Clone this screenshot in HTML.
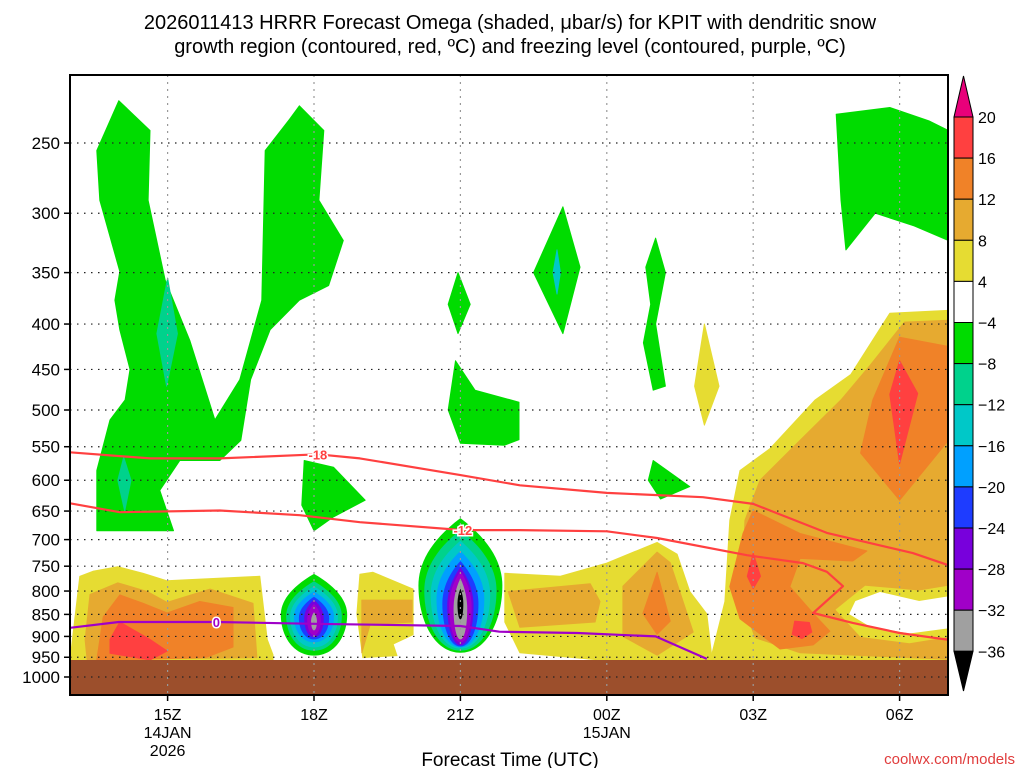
<!DOCTYPE html>
<html><head><meta charset="utf-8">
<style>
html,body{margin:0;padding:0;background:#fff;}
body{width:1024px;height:768px;overflow:hidden;font-family:"Liberation Sans","DejaVu Sans",sans-serif;}
svg text{font-family:"Liberation Sans","DejaVu Sans",sans-serif;}
</style></head>
<body>
<svg id="chart" width="1024" height="768" viewBox="0 0 1024 768" xmlns="http://www.w3.org/2000/svg">
<text x="510" y="29" font-size="20" text-anchor="middle" fill="#000">2026011413 HRRR Forecast Omega (shaded, μbar/s) for KPIT with dendritic snow</text>
<text x="510" y="53" font-size="20" text-anchor="middle" fill="#000">growth region (contoured, red, ºC) and freezing level (contoured, purple, ºC)</text>
<g id="plot"></g>
<g id="axes"></g>
<g id="cbar"></g>
<text x="510" y="766" font-size="19" text-anchor="middle" fill="#000">Forecast Time (UTC)</text>
<text x="1015" y="764" font-size="15" text-anchor="end" fill="#e03c3c" font-family="Liberation Mono, monospace">coolwx.com/models</text>
</svg>
<script>
// ---- data ----
const pressureTicks = [250,300,350,400,450,500,550,600,650,700,750,800,850,900,950,1000];
const timeTickHours = [2,5,8,11,14,17];
const timeTickLabels = ["15Z","18Z","21Z","00Z","03Z","06Z"];
const cbarLevels = [20,16,12,8,4,-4,-8,-12,-16,-20,-24,-28,-32,-36];
const cbarColors = ["#ff4040","#f08228","#e6aa30","#e6dc32","#ffffff","#00dc00","#00d28c","#00c8c8","#00a0ff","#1e3cff","#7800dc","#a000c8","#a0a0a0"];
// isotherm -18 (hours since 13Z, pressure hPa)
const iso18Hours = [0,1.64,3.07,5.08,5.94,8,9.22,11,12.97,14,15.51,17.27,18];
const iso18P = [558,567,567,561,567,592,608,620,627,638,688,725,748];
// isotherm -12
const iso12Hours = [0,1.02,3.07,4.71,5.94,8.05,9.22,11,12.03,13.87,15.02,15.51,15.84,15.23,16.04,17.0,18];
const iso12P = [637,652,649,657,669,683,683,685,697,729,744,761,790,847,869,892,908];
// freezing level 0C
const frzHours = [0,1,3,5,8,8.8,10.4,12,13.05];
const frzP = [880,867,867,871,876,889,892,900,954];
// shaded omega regions [hour, pressure]
const greenLeft = [[1.0,224],[1.64,242],[1.6,290],[1.95,357],[2.46,418],[2.97,513],[3.48,462],[3.93,376],[4.0,255],[4.5,235],[4.7,227],[5.2,242],[5.1,290],[5.6,322],[5.3,362],[4.7,376],[4.1,406],[3.7,462],[3.5,541],[3.07,570],[2.25,570],[1.84,616],[2.12,684],[0.55,684],[0.55,585],[0.82,513],[1.13,487],[1.23,450],[1.02,406],[0.92,376],[1.02,349],[0.61,290],[0.55,255]];
const tealLeftA = [[2.0,355],[2.2,410],[1.98,470],[1.78,410]];
const tealLeftB = [[1.1,565],[1.25,600],[1.12,650],[0.98,600]];
const green18 = [[4.8,570],[5.4,580],[6.05,632],[5.4,660],[5.0,684],[4.75,640]];
const green21a = [[7.95,350],[8.2,380],[7.95,410],[7.75,380]];
const green21b = [[7.9,440],[8.3,475],[9.2,490],[9.2,540],[8.9,548],[8.0,545],[7.75,500]];
const green23 = [[10.1,295],[10.45,345],[10.1,410],[9.5,350]];
const teal23 = [[9.98,330],[10.05,350],[9.98,370],[9.9,350]];
const green01a = [[12.0,320],[12.2,350],[12.0,400],[12.2,470],[11.95,475],[11.75,420],[11.9,380],[11.8,345]];
const green01b = [[11.95,570],[12.7,610],[12.1,630],[11.85,600]];
const green06 = [[15.7,232],[16.8,228],[17.6,236],[18,242],[18,322],[17.3,310],[16.5,300],[15.9,330],[15.8,290]];
const yellow02 = [[13,400],[13.3,470],[13.0,520],[12.8,470]];
const yellowRight = [[18,386],[16.8,389],[16.0,456],[15.27,487],[14.34,553],[13.73,585],[13.52,666],[13.42,822],[13.16,939],[13.16,964],[18,964]];
const lorangeRight = [[18,396],[17.1,398],[16.4,445],[15.8,487],[14.96,541],[14.14,600],[13.83,666],[13.77,822],[14.04,903],[14.96,939],[18,955]];
const orangeRightUp = [[17,414],[18,424],[18,541],[17,632],[16.2,559],[16.45,487]];
const redRightUp = [[17,440],[17.37,479],[17,575],[16.8,480]];
const orangeRightLow = [[14,649],[14.96,689],[16.33,721],[16.04,740],[14.96,735],[14.75,791],[15.23,848],[15.57,888],[15.23,920],[14.55,930],[13.73,860],[13.52,791],[13.79,689]];
const redRightLowA = [[14,725],[14.15,770],[14,795],[13.88,770]];
const redRightLowB = [[14.85,865],[15.15,868],[15.2,890],[15.0,905],[14.8,895]];
const holeYellow = [[15.7,840],[16.3,790],[17.4,800],[18,790],[18,900],[17.2,915],[16.2,900]];
const holeWhite = [[16.1,822],[16.6,803],[17.4,822],[18,812],[18,880],[17.2,892],[16.39,876],[15.98,849]];
const yellowMid = [[8.91,764],[10.04,770],[11.0,744],[12.03,705],[12.44,727],[12.7,801],[13.05,849],[13.16,964],[10.86,964],[9.22,939],[8.91,867]];
const lorangeMidA = [[8.98,801],[10.66,785],[10.86,822],[10.76,867],[9.22,879]];
const lorangeMidB = [[11.33,790],[12.03,723],[12.3,743],[12.77,890],[12.03,945],[11.33,900]];
const orangeMid = [[12.03,762],[12.3,865],[12.03,895],[11.74,848]];
const yellowLeft = [[0,964],[0.2,770],[0.47,760],[0.98,751],[1.5,764],[1.99,779],[2.4,777],[3.89,770],[4.04,907],[4.16,944],[4.16,964]];
const lorangeLeft = [[0.31,908],[0.41,807],[0.98,783],[1.58,801],[1.99,824],[2.87,796],[3.75,826],[3.83,951],[0.35,960]];
const orangeLeft = [[0.55,957],[0.68,856],[1.02,808],[1.5,826],[1.99,847],[2.66,822],[3.34,835],[3.34,925],[2.8,950],[1.17,960]];
const redLeft = [[0.82,940],[0.82,907],[1.02,867],[1.64,907],[1.99,935],[1.64,957]];
const yellow19 = [[5.94,766],[6.21,762],[7.03,796],[7.03,896],[6.62,918],[6.7,946],[6.0,951],[5.88,849]];
const lorange19 = [[5.98,819],[7.01,819],[7.01,867],[6.15,873],[5.98,939]];
// upward-motion cores: center hour, rings [halfWidthHours, topP, bottomP]
const core18Hour = 5.0;
const core18Rings = [[0.68,765,946],[0.57,780,934],[0.49,790,926],[0.41,801,914],[0.31,812,907],[0.2,818,902],[0.14,827,897],[0.06,845,886]];
const core21Hour = 8.0;
const core21Rings = [[0.86,662,939],[0.74,683,934],[0.61,702,929],[0.49,721,926],[0.37,740,924],[0.27,752,921],[0.23,760,914],[0.14,774,907],[0.06,795,861]];
const coreColors = ["#00dc00","#00d28c","#00c8c8","#00a0ff","#1e3cff","#7800dc","#a000c8","#a0a0a0","#000000"];

// ---- axes ----
const L=70,R=948,T=75,B=695,G=660;
const X = h => L + h*48.8;
const Y = p => 143 + 385.2*Math.log(p/250);
const NS="http://www.w3.org/2000/svg";
const plot=document.getElementById('plot'), axes=document.getElementById('axes'), cbar=document.getElementById('cbar');
function mk(tag,attrs,parent){const e=document.createElementNS(NS,tag);for(const k in attrs)e.setAttribute(k,attrs[k]);parent.appendChild(e);return e;}
function poly(pts,color,name){
  const e=mk('polygon',{points:pts.map(q=>X(q[0]).toFixed(1)+','+Math.min(Y(q[1]),G).toFixed(1)).join(' '),fill:color,stroke:color,'stroke-width':1,'stroke-linejoin':'round'},plot);
  
  
}
const C={r:"#ff4040",o:"#f08228",lo:"#e6aa30",y:"#e6dc32",g:"#00dc00",tg:"#00d28c",t:"#00c8c8"};
// clip
const defs=mk('defs',{},plot);
const cp=mk('clipPath',{id:'pc'},defs); mk('rect',{x:L,y:T,width:R-L,height:B-T},cp);
plot.setAttribute('clip-path','url(#pc)');
poly(greenLeft,C.g,'green-region-left');
poly(tealLeftA,C.tg,'teal-patch-upper-left');
poly(tealLeftB,C.tg,'teal-patch-lower-left');
poly(green18,C.g,'green-region-18z');
poly(green21a,C.g,'green-sliver-21z');
poly(green21b,C.g,'green-region-21z');
poly(green23,C.g,'green-region-23z');
poly(teal23,C.t,'teal-patch-23z');
poly(green01a,C.g,'green-sliver-01z');
poly(green01b,C.g,'green-patch-01z');
poly(green06,C.g,'green-region-06z');
poly(yellow02,C.y,'yellow-patch-02z');
poly(yellowRight,C.y,'yellow-region-right');
poly(lorangeRight,C.lo,'light-orange-region-right');
poly(orangeRightUp,C.o,'orange-region-06z');
poly(redRightUp,C.r,'red-core-06z');
poly(orangeRightLow,C.o,'orange-region-03z');
poly(redRightLowA,C.r,'red-core-03z');
poly(redRightLowB,C.r,'red-core-04z');
poly(holeYellow,C.y,'yellow-ring-hole');
poly(holeWhite,'#ffffff','white-hole-right');
poly(yellowMid,C.y,'yellow-region-middle');
poly(lorangeMidA,C.lo,'light-orange-region-00z');
poly(lorangeMidB,C.lo,'light-orange-region-01z');
poly(orangeMid,C.o,'orange-region-01z');
poly(yellowLeft,C.y,'yellow-region-left');
poly(lorangeLeft,C.lo,'light-orange-region-left');
poly(orangeLeft,C.o,'orange-region-left');
poly(redLeft,C.r,'red-core-left');
poly(yellow19,C.y,'yellow-region-19z');
poly(lorange19,C.lo,'light-orange-region-19z');
function core(h,rings,name){
  rings.forEach((r,i)=>{
    const yt=Y(r[1]), yb=Y(r[2]), cx=X(h), w=r[0]*48.8, cy=(yt+yb)/2;
    const d=`M${cx},${yt} C${cx+w*0.75},${yt+(cy-yt)*0.35} ${cx+w},${cy-(cy-yt)*0.3} ${cx+w},${cy} C${cx+w},${cy+(yb-cy)*0.55} ${cx+w*0.6},${yb} ${cx},${yb} C${cx-w*0.6},${yb} ${cx-w},${cy+(yb-cy)*0.55} ${cx-w},${cy} C${cx-w},${cy-(cy-yt)*0.3} ${cx-w*0.75},${yt+(cy-yt)*0.35} ${cx},${yt}Z`;
    const e=mk('path',{d:d,fill:coreColors[i]},plot);
    
    
  });
}
core(core18Hour,core18Rings,'omega-core-18z');
core(core21Hour,core21Rings,'omega-core-21z');
const ground=mk('rect',{x:L,y:G,width:R-L,height:B-G,fill:'#9c4f2c'},plot);


// grid
pressureTicks.forEach(p=>{
  const g=mk('line',{x1:L,x2:R,y1:Y(p),y2:Y(p),stroke:'#222','stroke-width':1.2,'stroke-dasharray':'1.5 5.5'},plot);
  
  
});
timeTickHours.forEach((h,i)=>{
  const g=mk('line',{x1:X(h),x2:X(h),y1:T,y2:B,stroke:'#999','stroke-width':1.2,'stroke-dasharray':'2 5'},plot);
  
  
});
function line(hs,ps,color,name){
  const e=mk('polyline',{points:hs.map((h,i)=>X(h).toFixed(1)+','+Y(ps[i]).toFixed(1)).join(' '),fill:'none',stroke:color,'stroke-width':2.2,'stroke-linejoin':'round'},plot);
  
  
}
line(iso18Hours,iso18P,'#ff4040','isotherm-minus18');
line(iso12Hours,iso12P,'#ff4040','isotherm-minus12');
line(frzHours,frzP,'#a000c8','freezing-level-line');
function lab(h,p,txt,color,name){
  const t=mk('text',{x:X(h),y:Y(p)+5,'font-size':13,'font-weight':'bold','text-anchor':'middle',fill:color,stroke:'#fff','stroke-width':3,'paint-order':'stroke'},plot);
  t.textContent=txt;
  
  
}
lab(5.08,561,'-18','#ff4040','label-minus18');
lab(8.05,683,'-12','#ff4040','label-minus12');
lab(3.0,867,'0','#a000c8','label-freezing-0');
// frame and ticks
const fr=mk('rect',{x:L,y:T,width:R-L,height:B-T,fill:'none',stroke:'#000','stroke-width':2},axes);


pressureTicks.forEach(p=>{
  mk('line',{x1:L-6,x2:L,y1:Y(p),y2:Y(p),stroke:'#000','stroke-width':1.5},axes);
  const t=mk('text',{x:60,y:Y(p)+6,'font-size':17,'text-anchor':'end',fill:'#000'},axes);
  t.textContent=p;
  
  
});
timeTickHours.forEach((h,i)=>{
  mk('line',{x1:X(h),x2:X(h),y1:B,y2:B+6,stroke:'#000','stroke-width':1.5},axes);
  const t=mk('text',{x:X(h),y:720,'font-size':16,'text-anchor':'middle',fill:'#000'},axes);
  t.textContent=timeTickLabels[i];
  
  
});
const d1=mk('text',{x:X(2),y:738,'font-size':16,'text-anchor':'middle',fill:'#000'},axes); d1.textContent='14JAN';


const d2=mk('text',{x:X(2),y:756,'font-size':16,'text-anchor':'middle',fill:'#000'},axes); d2.textContent='2026';


const d3=mk('text',{x:X(11),y:738,'font-size':16,'text-anchor':'middle',fill:'#000'},axes); d3.textContent='15JAN';


// colorbar
const cbTop=117, cbStep=41.1, cbX=954, cbW=19;
const tri1=mk('polygon',{points:`${cbX},${cbTop} ${cbX+cbW},${cbTop} ${cbX+cbW/2},76`,fill:'#e8007a',stroke:'#000','stroke-width':1},cbar);


cbarColors.forEach((c,i)=>{
  const r=mk('rect',{x:cbX,y:cbTop+i*cbStep,width:cbW,height:cbStep,fill:c,stroke:'#000','stroke-width':1},cbar);
  
  
});
const lastY=cbTop+cbarColors.length*cbStep;
const tri2=mk('polygon',{points:`${cbX},${lastY} ${cbX+cbW},${lastY} ${cbX+cbW/2},691`,fill:'#000',stroke:'#000','stroke-width':1},cbar);


cbarLevels.forEach((v,i)=>{
  const t=mk('text',{x:978,y:cbTop+i*cbStep+6,'font-size':16,fill:'#000'},cbar);
  t.textContent=v<0?'\u2212'+(-v):String(v);
  
  
});
</script>
</body></html>
